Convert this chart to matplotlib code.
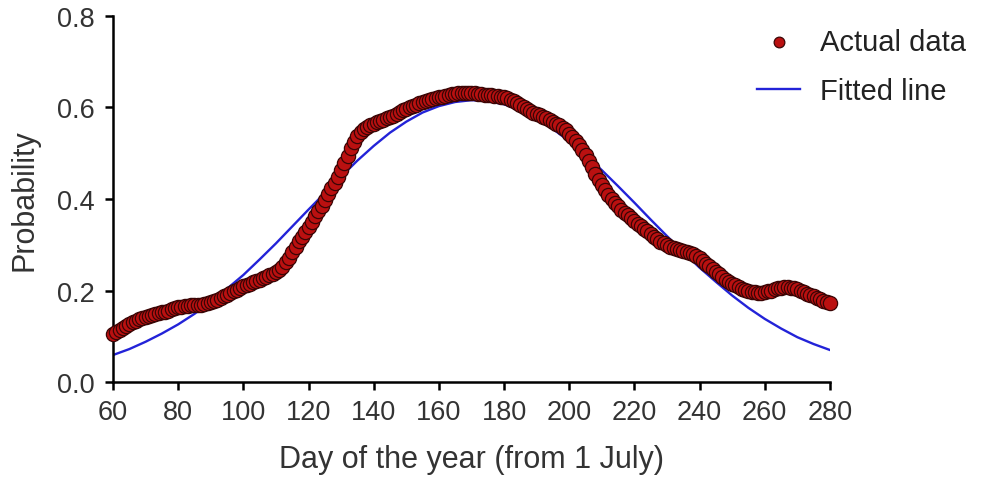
import matplotlib.pyplot as plt

plt.rcParams['font.family'] = ['Liberation Sans', 'DejaVu Sans']

# actual data, one value per day from day 60 to day 280
days = list(range(60, 281))
probability = [
    0.104, 0.109, 0.114, 0.119, 0.123, 0.127, 0.131, 0.134, 0.137, 0.140,  # 60-69
    0.142, 0.144, 0.146, 0.148, 0.150, 0.152, 0.154, 0.156, 0.159, 0.161,  # 70-79
    0.163, 0.164, 0.166, 0.167, 0.168, 0.168, 0.169, 0.169, 0.170, 0.172,  # 80-89
    0.174, 0.177, 0.180, 0.184, 0.187, 0.191, 0.195, 0.198, 0.202, 0.206,  # 90-99
    0.209, 0.212, 0.215, 0.218, 0.221, 0.224, 0.227, 0.230, 0.233, 0.236,  # 100-109
    0.240, 0.245, 0.252, 0.262, 0.272, 0.284, 0.296, 0.308, 0.318, 0.327,  # 110-119
    0.338, 0.350, 0.362, 0.374, 0.385, 0.397, 0.410, 0.423, 0.436, 0.449,  # 120-129
    0.463, 0.478, 0.494, 0.511, 0.525, 0.537, 0.546, 0.552, 0.557, 0.561,  # 130-139
    0.565, 0.568, 0.571, 0.573, 0.576, 0.579, 0.582, 0.586, 0.590, 0.594,  # 140-149
    0.597, 0.600, 0.603, 0.606, 0.609, 0.612, 0.614, 0.616, 0.618, 0.620,  # 150-159
    0.622, 0.624, 0.626, 0.628, 0.629, 0.630, 0.631, 0.632, 0.632, 0.632,  # 160-169
    0.631, 0.631, 0.630, 0.629, 0.628, 0.628, 0.627, 0.626, 0.625, 0.624,  # 170-179
    0.622, 0.620, 0.617, 0.614, 0.610, 0.605, 0.600, 0.596, 0.592, 0.589,  # 180-189
    0.586, 0.583, 0.580, 0.577, 0.573, 0.569, 0.565, 0.561, 0.556, 0.550,  # 190-199
    0.543, 0.535, 0.527, 0.519, 0.508, 0.496, 0.483, 0.469, 0.455, 0.442,  # 200-209
    0.430, 0.419, 0.409, 0.400, 0.392, 0.384, 0.377, 0.370, 0.364, 0.358,  # 210-219
    0.352, 0.346, 0.340, 0.335, 0.329, 0.323, 0.317, 0.312, 0.307, 0.303,  # 220-229
    0.299, 0.296, 0.293, 0.291, 0.289, 0.287, 0.285, 0.283, 0.280, 0.276,  # 230-239
    0.271, 0.265, 0.259, 0.253, 0.247, 0.241, 0.235, 0.229, 0.224, 0.219,  # 240-249
    0.215, 0.211, 0.207, 0.204, 0.201, 0.199, 0.197, 0.196, 0.195, 0.195,  # 250-259
    0.196, 0.198, 0.200, 0.203, 0.205, 0.206, 0.207, 0.207, 0.206, 0.205,  # 260-269
    0.203, 0.200, 0.197, 0.193, 0.190, 0.187, 0.184, 0.181, 0.178, 0.175,  # 270-279
    0.173,                                                                 # 280
]

# fitted line, read every 5 days
fit_days = list(range(60, 281, 5))
fit_values = [
    0.059, 0.072, 0.088, 0.106, 0.126, 0.149, 0.175, 0.204, 0.234, 0.268,
    0.303, 0.340, 0.377, 0.413, 0.449, 0.484, 0.516, 0.545, 0.569, 0.589,
    0.603, 0.612, 0.616, 0.614, 0.607, 0.594, 0.576, 0.553, 0.526, 0.496,
    0.463, 0.428, 0.392, 0.355, 0.319, 0.284, 0.250, 0.219, 0.189, 0.162,
    0.138, 0.117, 0.098, 0.083, 0.070,
]

xticks = [60, 80, 100, 120, 140, 160, 180, 200, 220, 240, 260, 280]
yticks = [0.0, 0.2, 0.4, 0.6, 0.8]
ytick_labels = ['0.0', '0.2', '0.4', '0.6', '0.8']

fig = plt.figure(figsize=(9.88, 4.81), dpi=100)
ax = fig.add_axes([0.1144, 0.2037, 0.7256, 0.761])

ax.plot(fit_days, fit_values, color='#2323d8', linewidth=1.7, zorder=2, label='Fitted line')
ax.scatter(days, probability, s=105, color='#ba1010', edgecolors='#3a0505', linewidths=0.9,
           zorder=3, label='Actual data', clip_on=False)

ax.set_xlim(60, 280)
ax.set_ylim(0, 0.8)
ax.set_xticks(xticks)
ax.set_yticks(yticks)
ax.set_yticklabels(ytick_labels)

for side in ['top', 'right']:
    ax.spines[side].set_visible(False)
for side in ['left', 'bottom']:
    ax.spines[side].set_linewidth(1.8)
ax.tick_params(direction='out', length=6, width=1.8, labelsize=19.5, color='black',
               labelcolor='#333333')
ax.tick_params(axis='x', pad=6)
ax.tick_params(axis='y', pad=7)

ax.set_xlabel('Day of the year (from 1 July)', fontsize=22, color='#333333')
ax.set_ylabel('Probability', fontsize=22, color='#333333')
ax.xaxis.set_label_coords(0.5, -0.17)
ax.yaxis.set_label_coords(-0.102, 0.5)

handles, labels = ax.get_legend_handles_labels()
ax.legend(handles[::-1], labels[::-1], loc='upper left', bbox_to_anchor=(0.740, 0.994),
          bbox_transform=fig.transFigure, frameon=False, fontsize=21, handlelength=1.47,
          handletextpad=0.69, labelspacing=0.72, markerscale=0.75, labelcolor='#222222')

fig.savefig('out.png', dpi=100)
plt.close('all')
